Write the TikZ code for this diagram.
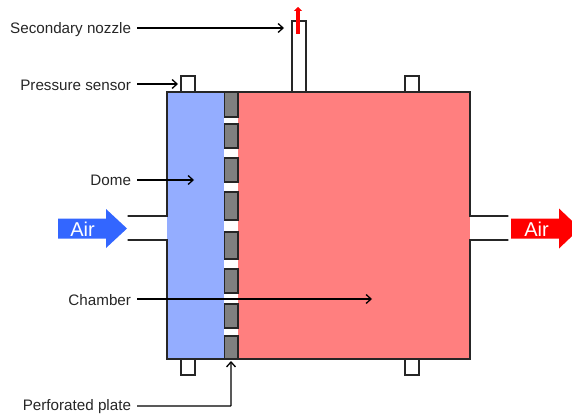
\documentclass[tikz,border=0pt]{standalone}
\usepackage{fontspec}
\setmainfont{Liberation Sans}
\usetikzlibrary{arrows.meta,shapes.arrows}
\definecolor{domeblue}{HTML}{94ADFF}
\definecolor{chamberred}{HTML}{FF7F7F}
\definecolor{airblue}{HTML}{3366FF}
\definecolor{plategray}{HTML}{808080}
\tikzset{
  x=1pt,y=-1pt,
  every node/.style={inner sep=0pt,outer sep=0pt},
  wall/.style={draw=black!85,line width=1.2pt},
  boss/.style={draw=black!85,fill=white,line width=1.2pt},
  plateblock/.style={draw=black!85,fill=plategray,line width=1.2pt},
  lbl/.style={font=\fontsize{15.2}{17}\selectfont,anchor=east,text=black!85},
  callout/.style={draw=black,line width=1.3pt,-{Straight Barb[length=5pt,width=9pt,line width=1.3pt]}},
  airtext/.style={font=\fontsize{20}{22}\selectfont,text=white},
}
\begin{document}
\begin{tikzpicture}
\useasboundingbox (0,0) rectangle (572,417);
% regions
\fill[domeblue] (167,92) rectangle (224,359);
\fill[chamberred] (238,92) rectangle (470,359);
\fill[white] (224,92) rectangle (238,359);
% bosses
\draw[boss] (181,76) rectangle (195,92);
\draw[boss] (405,76) rectangle (419,92);
\draw[boss] (181,359) rectangle (195,375);
\draw[boss] (405,359) rectangle (419,375);
\draw[boss,line width=1.7pt] (291.7,21) rectangle (305.7,92);
% outline with inlet and outlet gaps
\draw[wall,line cap=round,line join=miter] (128,216) -- (167,216) -- (167,92) -- (470,92) -- (470,216) -- (508,216);
\draw[wall,line cap=round,line join=miter] (128,240) -- (167,240) -- (167,359) -- (470,359) -- (470,240) -- (508,240);
% plate
\foreach \a/\b in {92/117,124/148,158/182,192/220,232/259,269/293,304/328,336/359}
  \draw[plateblock] (224.5,\a) rectangle (238,\b);
% air arrows
\fill[airblue] (58,218.5) -- (106,218.5) -- (106,209) -- (127,228.5) -- (106,248) -- (106,238.5) -- (58,238.5) -- cycle;
\fill[red] (511,218.5) -- (559,218.5) -- (559,208.5) -- (580,228.5) -- (559,248.5) -- (559,238.5) -- (511,238.5) -- cycle;
\node[airtext] (airin) at (82.5,229) {Air};
\node[airtext] (airout) at (536.5,229.5) {Air};
% secondary flow arrow
\coordinate (sfrom) at (298,34);
\coordinate (sto) at (298,7);
\draw[red,line width=4pt,-{Triangle[length=4pt,width=8pt]}] (sfrom) -- (sto);
% labels
\node[lbl] (lnozzle) at (131,30) {Secondary nozzle};
\node[lbl] (lsensor) at (131,85.5) {Pressure sensor};
\node[lbl] (ldome) at (131,180.5) {Dome};
\node[lbl] (lchamber) at (131,300) {Chamber};
\node[lbl] (lplate) at (131,407) {Perforated plate};
% callout ends
\coordinate (tnozzle) at (284,28);
\coordinate (tsensor) at (178,84);
\coordinate (tdome) at (194,180);
\coordinate (tchamber) at (372,299);
\coordinate (tplate) at (231,361);
\coordinate (splate) at (137,406);
\draw[callout] (lnozzle.east |- tnozzle) ++(6,0) -- (tnozzle);
\draw[callout] (lsensor.east |- tsensor) ++(6,0) -- (tsensor);
\draw[callout] (ldome.east |- tdome) ++(6,0) -- (tdome);
\draw[callout] (lchamber.east |- tchamber) ++(6,0) -- (tchamber);
\draw[callout,rounded corners=0.5pt] (splate) -| (tplate);
\end{tikzpicture}
\end{document}
